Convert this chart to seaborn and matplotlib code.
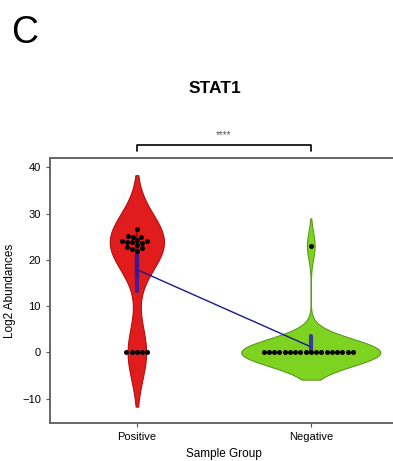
import numpy as np
import pandas as pd
import seaborn as sns
import matplotlib.pyplot as plt
import matplotlib.transforms as mtransforms

groups = ["Positive", "Negative"]
positive_values = [26.6, 25.2, 24.9, 25.0, 24.0, 24.3, 23.8, 23.9, 24.1, 23.6,
                   23.2, 22.8, 22.5, 22.3, 22.0, 0, 0, 0, 0, 0]
negative_values = [23.1] + [0] * 18
violin_colors = ["#e01c1c", "#7ed321"]
edge_colors = ["#b01010", "#5a9a20"]

df = pd.DataFrame({
    "Sample Group": ["Positive"] * len(positive_values) + ["Negative"] * len(negative_values),
    "Log2 Abundances": positive_values + negative_values,
})

sns.set_theme(style="ticks")
plt.rcParams["font.family"] = ["Liberation Sans", "DejaVu Sans"]
plt.rcParams["text.color"] = "black"
plt.rcParams["axes.labelcolor"] = "black"
plt.rcParams["xtick.labelcolor"] = "black"
plt.rcParams["ytick.labelcolor"] = "black"

fig = plt.figure(figsize=(3.93, 4.61), dpi=100)
ax = fig.add_axes([0.127, 0.082, 0.885, 0.575])

sns.violinplot(data=df, x="Sample Group", y="Log2 Abundances", order=groups,
               hue="Sample Group", palette=violin_colors, legend=False,
               common_norm=True,
               inner="box", inner_kws=dict(color="#8a1515", box_width=3, whis_width=1.5),
               linewidth=0.8, saturation=1, ax=ax)
for coll, ec in zip(ax.collections[:2], edge_colors):
    coll.set_edgecolor(ec)

# mean with 95% CI, connected between groups
sns.pointplot(data=df, x="Sample Group", y="Log2 Abundances", order=groups,
              errorbar=("ci", 95), seed=0, color="#1a1a8c", markers="",
              linewidth=1, err_kws={"linewidth": 3, "alpha": 0.8, "color": "#2a1ab0"}, ax=ax)

sns.swarmplot(data=df, x="Sample Group", y="Log2 Abundances", order=groups,
              color="black", size=3.6, ax=ax)

ax.set_xlim(-0.5, 1.5)
ax.set_ylim(-15.3, 42)
ax.set_yticks([-10, 0, 10, 20, 30, 40])
ax.tick_params(labelsize=8, length=3, color="#555555", width=0.8)
ax.set_xlabel("Sample Group", fontsize=8.5)
ax.set_ylabel("Log2 Abundances", fontsize=8.5)
for s in ax.spines.values():
    s.set_color("#666666")
    s.set_linewidth(1.4)

# significance bracket
trans = mtransforms.blended_transform_factory(ax.transData, ax.transAxes)
ax.plot([0, 0, 1, 1], [1.026, 1.049, 1.049, 1.026], color="black", lw=1.2,
        transform=trans, clip_on=False)
ax.text(0.5, 1.068, "****", transform=trans, ha="center", va="bottom",
        fontsize=7, color="#555555")

fig.text(0.547, 0.807, "STAT1", ha="center", va="center", fontsize=12.5, fontweight="bold")
fig.text(0.028, 0.907, "C", ha="left", va="baseline", fontsize=27)

fig.savefig("out.png", dpi=100)
